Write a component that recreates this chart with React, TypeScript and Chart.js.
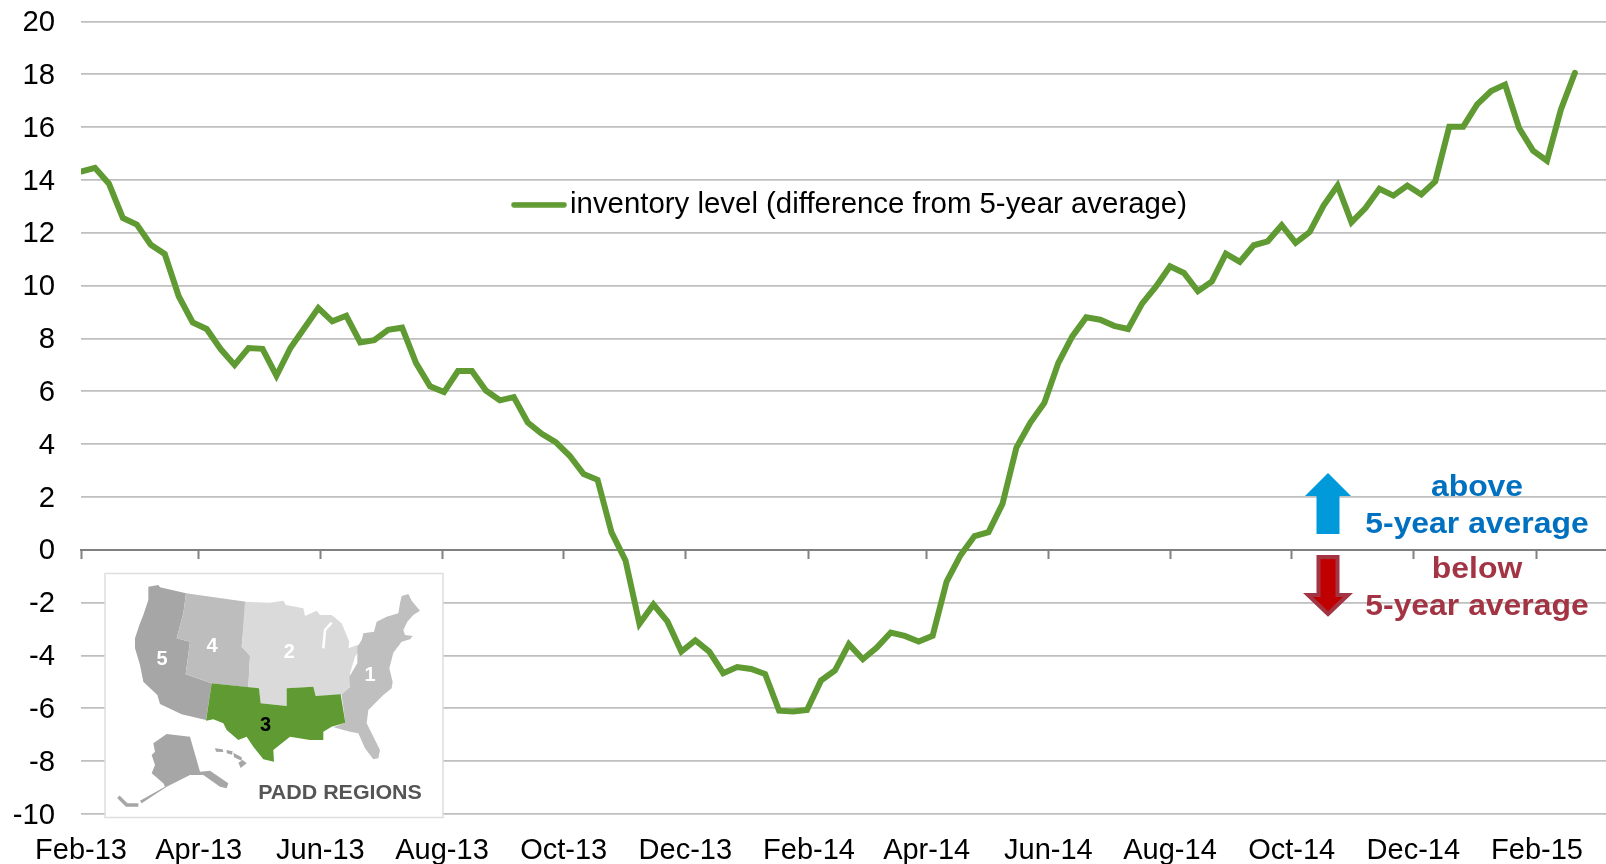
import React, { useEffect, useRef } from "react";
import { Chart, registerables } from "chart.js";

Chart.register(...registerables);

const seriesLabel = "inventory level (difference from 5-year average)";
// Weekly inventory level, difference from the 5-year average
const inventoryLevel = [
  14.32, 14.46, 13.86, 12.56, 12.31, 11.55, 11.2, 9.6, 8.61, 8.36, 7.6, 7.0, 7.64, 7.61, 6.59, 7.64, 8.4, 9.15, 8.65,
  8.86, 7.85, 7.94, 8.33, 8.41, 7.07, 6.19, 5.97, 6.77, 6.77, 6.03, 5.66, 5.78, 4.82, 4.39, 4.08, 3.56, 2.87, 2.65,
  0.66, -0.4, -2.8, -2.07, -2.71, -3.85, -3.43, -3.85, -4.67, -4.44, -4.51, -4.7, -6.09, -6.12, -6.06, -4.95, -4.57,
  -3.57, -4.14, -3.7, -3.13, -3.26, -3.47, -3.25, -1.2, -0.2, 0.52, 0.67, 1.74, 3.87, 4.82, 5.56, 7.07, 8.08, 8.8,
  8.71, 8.48, 8.36, 9.32, 9.97, 10.73, 10.48, 9.79, 10.16, 11.21, 10.9, 11.53, 11.68, 12.29, 11.62, 12.03, 13.03,
  13.79, 12.4, 12.94, 13.67, 13.41, 13.79, 13.45, 13.95, 16.02, 16.02, 16.86, 17.37, 17.61, 15.97, 15.11, 14.73,
  16.67, 18.06,
];
const monthLabels = [
  "Feb-13", "Apr-13", "Jun-13", "Aug-13", "Oct-13", "Dec-13", "Feb-14", "Apr-14", "Jun-14", "Aug-14", "Oct-14",
  "Dec-14", "Feb-15",
];
// Days since 1 Feb 2013 of each month label
const monthDays = [0, 59, 120, 181, 242, 303, 365, 424, 485, 546, 607, 668, 730];
const DAYS_PER_WEEK = 7;
const X_MAX_DAYS = 764.6;

// Inset map outlines, in 3x inset coordinates
type Pt = [number, number];
const padd5: Pt[] = [[445,140],[475,135],[480,142],[558,160],[550,220],[530,295],[570,305],[557,403],[635,430],[618,540],[545,523],[480,492],[472,465],[430,425],[420,375],[405,325],[405,295],[418,255],[430,225],[445,180]];
const padd4: Pt[] = [[558,160],[738,185],[725,320],[750,347],[745,442],[635,430],[557,403],[570,305],[530,295],[550,220]];
const padd2: Pt[] = [[735,185],[810,188],[850,182],[858,195],[910,205],[915,228],[950,212],[960,225],[995,225],[1025,250],[1048,305],[1045,325],[1072,315],[1085,320],[1065,350],[1050,400],[1055,430],[1030,465],[947,468],[940,440],[860,445],[860,498],[782,490],[777,445],[745,442],[750,347],[725,320]];
const padd1: Pt[] = [[1200,190],[1205,168],[1225,162],[1235,182],[1260,212],[1240,225],[1222,245],[1210,270],[1215,285],[1238,288],[1230,298],[1205,305],[1180,338],[1168,385],[1178,425],[1175,445],[1150,465],[1105,510],[1100,550],[1140,630],[1135,655],[1120,658],[1095,625],[1075,580],[1050,575],[1000,562],[1036,548],[1025,465],[1050,440],[1048,410],[1072,370],[1072,320],[1085,300],[1090,280],[1122,275],[1130,245],[1160,230],[1195,220]];
const padd3: Pt[] = [[635,430],[777,445],[782,490],[860,498],[860,445],[940,440],[947,468],[1022,463],[1036,548],[995,560],[970,575],[970,600],[930,600],[870,590],[820,630],[822,665],[790,658],[760,620],[740,590],[715,600],[680,570],[670,550],[640,538],[618,542]];
const alaska: Pt[] = [[460,610],[500,582],[570,590],[600,695],[630,692],[685,730],[680,745],[660,740],[610,705],[570,705],[500,740],[425,790],[420,782],[495,740],[490,730],[455,700],[465,675],[455,645],[465,635]];
const aleutians: Pt[] = [[355,770],[380,795],[415,795]];
const hawaii: Pt[][] = [
  [[645,625],[668,628],[670,636],[648,635]],
  [[680,630],[698,634],[696,644],[680,640]],
  [[700,638],[725,652],[725,662],[702,652]],
  [[715,668],[728,660],[740,670],[722,684]],
];
const lakeMichigan: Pt[] = [[995,248],[975,270],[970,325]];
const regionNumbers: [string, number, number, string][] = [
  ["5", 486, 357, "#ffffff"],
  ["4", 636, 320, "#ffffff"],
  ["2", 868, 337, "#ffffff"],
  ["1", 1110, 407, "#ffffff"],
  ["3", 797, 556, "#000000"],
];

const FONT = '"Liberation Sans", Arial, sans-serif';
const GREEN = "#5f9a32";

function poly(ctx: CanvasRenderingContext2D, pts: Pt[]) {
  ctx.beginPath();
  pts.forEach(([x, y], i) => {
    const px = x / 3;
    const py = 540 + y / 3;
    if (i === 0) ctx.moveTo(px, py);
    else ctx.lineTo(px, py);
  });
}

function stretchedText(ctx: CanvasRenderingContext2D, text: string, cx: number, base: number, sx: number) {
  ctx.save();
  ctx.translate(cx, base);
  ctx.scale(sx, 1);
  ctx.textAlign = "center";
  ctx.textBaseline = "alphabetic";
  ctx.fillText(text, 0, 0);
  ctx.restore();
}

function legendLineImage() {
  const c = document.createElement("canvas");
  c.width = 56;
  c.height = 6;
  const g = c.getContext("2d")!;
  g.strokeStyle = GREEN;
  g.lineWidth = 5.5;
  g.lineCap = "round";
  g.beginPath();
  g.moveTo(3, 3);
  g.lineTo(53, 3);
  g.stroke();
  return c;
}

const decorations = {
  id: "decorations",
  afterLayout(chart: any) {
    const legend = chart.legend;
    legend.left = 510;
    legend.right = 1300;
    legend.top = 177.35;
    legend.bottom = 240;
  },
  afterDraw(chart: any) {
    const ctx: CanvasRenderingContext2D = chart.ctx;
    ctx.save();
    // inset
    ctx.fillStyle = "#ffffff";
    ctx.strokeStyle = "#dedede";
    ctx.lineWidth = 1.5;
    ctx.fillRect(105, 573.5, 338, 244);
    ctx.strokeRect(105, 573.5, 338, 244);
    const fills: [Pt[], string][] = [
      [padd5, "#a6a6a6"],
      [padd4, "#bdbdbd"],
      [padd2, "#dadada"],
      [padd1, "#bfbfbf"],
      [padd3, GREEN],
      [alaska, "#a6a6a6"],
      ...hawaii.map((h): [Pt[], string] => [h, "#a6a6a6"]),
    ];
    fills.forEach(([pts, col]) => {
      poly(ctx, pts);
      ctx.closePath();
      ctx.fillStyle = col;
      ctx.fill();
    });
    poly(ctx, aleutians);
    ctx.strokeStyle = "#a6a6a6";
    ctx.lineWidth = 3.5;
    ctx.stroke();
    poly(ctx, lakeMichigan);
    ctx.strokeStyle = "#ffffff";
    ctx.lineWidth = 2.5;
    ctx.stroke();
    ctx.font = `bold 20px ${FONT}`;
    ctx.textBaseline = "middle";
    ctx.textAlign = "center";
    regionNumbers.forEach(([t, x, y, c]) => {
      ctx.fillStyle = c;
      ctx.fillText(t, x / 3, 540 + y / 3);
    });
    ctx.font = `bold 20px ${FONT}`;
    ctx.fillStyle = "#555555";
    stretchedText(ctx, "PADD REGIONS", 340, 799, 1.07);

    // arrows
    const cx = 1328;
    ctx.fillStyle = "#0099d9";
    ctx.beginPath();
    ctx.moveTo(cx, 473);
    ctx.lineTo(cx + 23, 496);
    ctx.lineTo(cx + 11.5, 496);
    ctx.lineTo(cx + 11.5, 534);
    ctx.lineTo(cx - 11.5, 534);
    ctx.lineTo(cx - 11.5, 496);
    ctx.lineTo(cx - 23, 496);
    ctx.closePath();
    ctx.fill();

    ctx.beginPath();
    ctx.moveTo(cx, 614);
    ctx.lineTo(cx + 20, 595);
    ctx.lineTo(cx + 9.5, 595);
    ctx.lineTo(cx + 9.5, 557);
    ctx.lineTo(cx - 9.5, 557);
    ctx.lineTo(cx - 9.5, 595);
    ctx.lineTo(cx - 20, 595);
    ctx.closePath();
    ctx.fillStyle = "#c00000";
    ctx.fill();
    ctx.strokeStyle = "#a33444";
    ctx.lineWidth = 4;
    ctx.stroke();

    // annotations
    ctx.font = `bold 29px ${FONT}`;
    ctx.fillStyle = "#0070c0";
    stretchedText(ctx, "above", 1477, 496, 1.1);
    stretchedText(ctx, "5-year average", 1477, 533, 1.1);
    ctx.fillStyle = "#a33444";
    stretchedText(ctx, "below", 1477, 578, 1.1);
    stretchedText(ctx, "5-year average", 1477, 615, 1.1);
    ctx.restore();
  },
};

export default function App() {
  const ref = useRef<HTMLCanvasElement>(null);
  useEffect(() => {
    const monthTicks = (scale: any) => {
      scale.ticks = monthDays.map((value) => ({ value }));
    };
    const chart = new Chart(ref.current!, {
      type: "line",
      data: {
        datasets: [
          {
            label: seriesLabel,
            data: inventoryLevel.map((y, i) => ({ x: i * DAYS_PER_WEEK, y })),
            borderColor: GREEN,
            backgroundColor: GREEN,
            borderWidth: 6,
            borderCapStyle: "round",
            borderJoinStyle: "miter",
            pointRadius: 0,
            tension: 0,
          },
        ],
      },
      options: {
        animation: false,
        responsive: false,
        devicePixelRatio: 1,
        events: [],
        layout: { padding: { top: 21.5, left: 0, right: 0, bottom: 0 } },
        plugins: {
          tooltip: { enabled: false },
          legend: {
            display: true,
            position: "chartArea",
            fullSize: false,
            align: "start",
            labels: {
              usePointStyle: true,
              pointStyle: legendLineImage(),
              pointStyleWidth: 32.7,
              boxHeight: 10,
              padding: 12.65,
              color: "#000000",
              font: { family: FONT, size: 29.4 },
            },
          },
        },
        scales: {
          x: {
            type: "linear",
            min: 0,
            max: X_MAX_DAYS,
            position: "bottom",
            afterBuildTicks: monthTicks,
            afterFit: (s: any) => {
              s.height = 50;
            },
            border: { display: false },
            grid: { display: false },
            ticks: {
              autoSkip: false,
              maxRotation: 0,
              padding: 12,
              color: "#000000",
              font: { family: FONT, size: 29 },
              callback: (v: any) => monthLabels[monthDays.indexOf(v)],
            },
          },
          x2: {
            type: "linear",
            axis: "x",
            min: 0,
            max: X_MAX_DAYS,
            position: { y: 0 },
            afterBuildTicks: monthTicks,
            afterFit: (s: any) => {
              s.height = 0;
            },
            border: { display: true, color: "#808080", width: 2 },
            grid: { drawOnChartArea: false, drawTicks: true, tickLength: 8, tickColor: "#808080", tickWidth: 2 },
            ticks: { display: false },
          },
          y: {
            type: "linear",
            min: -10,
            max: 20,
            position: "left",
            afterFit: (s: any) => {
              s.width = 81;
              s.paddingTop = 0;
            },
            border: { display: false },
            grid: {
              drawTicks: false,
              lineWidth: 1.8,
              color: "#bfbfbf",
            },
            ticks: {
              stepSize: 2,
              padding: 26,
              labelOffset: 1.5,
              color: "#000000",
              font: { family: FONT, size: 29.3 },
            },
          },
        },
      },
      plugins: [decorations],
    } as any);
    return () => chart.destroy();
  }, []);
  return (
    <canvas
      ref={ref}
      width={1606}
      height={864}
      style={{ position: "fixed", left: 0, top: 0, display: "block" }}
    />
  );
}
